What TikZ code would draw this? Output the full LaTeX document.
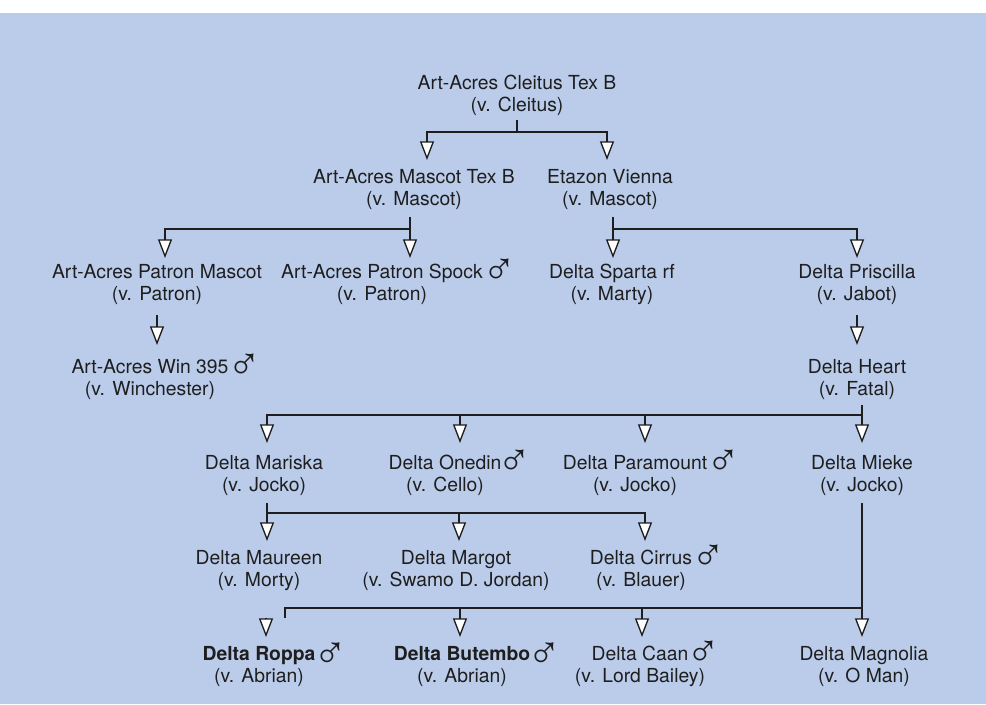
\documentclass[tikz,border=0pt]{standalone}
\usepackage{fontspec}
\setmainfont{TeX Gyre Heros}
\newfontfamily\symfont{Liberation Sans}
\usetikzlibrary{arrows.meta}
\definecolor{bgblue}{RGB}{186,204,234}
\definecolor{inkc}{RGB}{30,30,30}
\newcommand\tw[2]{\vtop{\halign{\hfil##\hfil\cr #1\cr #2\cr}}}
\newcommand\msym[1][-0.5pt]{\rlap{\hspace{#1}\raisebox{-5pt}{\symfont\fontsize{34}{34}\selectfont ♂}}}
\begin{document}
\begin{tikzpicture}[x=0.75pt,y=-0.75pt,
  txt/.style={anchor=base,inner sep=0pt,text=inkc,font=\fontsize{14.5}{16.9}\selectfont},
  ln/.style={draw=inkc,line width=1pt},
  arr/.style={ln,-{Triangle[fill=white,length=14pt,width=10.5pt]}}]
\useasboundingbox (0,0) rectangle (986,704);
\fill[white] (0,0) rectangle (986,704);
\fill[bgblue] (0,13) rectangle (986,704);

% nodes
\node[txt] (cleitus) at (517,89) {\tw{Art-Acres Cleitus Tex B}{(v. Cleitus)}};
\node[txt] (mascot) at (414,183) {\tw{Art-Acres Mascot Tex B}{(v. Mascot)}};
\node[txt] (etazon) at (610,183) {\tw{Etazon Vienna}{(v. Mascot)}};
\node[txt] (pmascot) at (157,278) {\tw{Art-Acres Patron Mascot}{(v. Patron)}};
\node[txt] (spock) at (382,278) {\tw{Art-Acres Patron Spock\msym}{(v. Patron)}};
\node[txt] (sparta) at (612,278) {\tw{Delta Sparta rf}{(v. Marty)}};
\node[txt] (priscilla) at (857,278) {\tw{Delta Priscilla}{(v. Jabot)}};
\node[txt] (win) at (150,373) {\tw{Art-Acres Win 395\msym}{(v. Winchester)}};
\node[txt] (heart) at (857,373) {\tw{Delta Heart}{(v. Fatal)}};
\node[txt] (mariska) at (264,469) {\tw{Delta Mariska}{(v. Jocko)}};
\node[txt] (onedin) at (445,469) {\tw{Delta Onedin\msym[-3pt]}{(v. Cello)}};
\node[txt] (paramount) at (635,469) {\tw{Delta Paramount\msym}{(v. Jocko)}};
\node[txt] (mieke) at (862,469) {\tw{Delta Mieke}{(v. Jocko)}};
\node[txt] (maureen) at (259,564) {\tw{Delta Maureen}{(v. Morty)}};
\node[txt] (margot) at (456,564) {\tw{Delta Margot}{(v. Swamo D. Jordan)}};
\node[txt] (cirrus) at (641,564) {\tw{Delta Cirrus\msym}{(v. Blauer)}};
\node[txt] (roppa) at (259,660) {\tw{\bfseries Delta Roppa\msym[-1.5pt]}{(v. Abrian)}};
\node[txt] (butembo) at (462,660) {\tw{\bfseries Delta Butembo\msym[-2pt]}{(v. Abrian)}};
\node[txt] (caan) at (640,660) {\tw{Delta Caan\msym[-1.5pt]}{(v. Lord Bailey)}};
\node[txt] (magnolia) at (864,660) {\tw{Delta Magnolia}{(v. O Man)}};

% connector points
\coordinate (s1) at (517,120); \coordinate (j1) at (517,132);
\coordinate (t-mascot) at (427,160); \coordinate (t-etazon) at (607,160);
\coordinate (s2) at (410,217); \coordinate (j2) at (410,229);
\coordinate (t-pmascot) at (165,258); \coordinate (t-spock) at (410,258);
\coordinate (s3) at (613,217); \coordinate (j3) at (613,229);
\coordinate (t-sparta) at (613,258); \coordinate (t-priscilla) at (857,258);
\coordinate (s4) at (157,315); \coordinate (t-win) at (157,345);
\coordinate (s5) at (857,315); \coordinate (t-heart) at (857,345);
\coordinate (s6) at (862,405); \coordinate (j6) at (862,415);
\coordinate (t-mariska) at (267,443); \coordinate (t-onedin) at (460,443);
\coordinate (t-paramount) at (645,443); \coordinate (t-mieke) at (862,443);
\coordinate (s7) at (267,503); \coordinate (j7) at (267,513);
\coordinate (t-maureen) at (267,541); \coordinate (t-margot) at (459,541);
\coordinate (t-cirrus) at (645,541);
\coordinate (s8) at (862,503); \coordinate (j8) at (862,608);
\coordinate (lt) at (285,618);
\coordinate (t-roppa) at (266,637); \coordinate (t-butembo) at (460,637);
\coordinate (t-caan) at (642,637); \coordinate (t-magnolia) at (862,637);

% connectors
\draw[ln] (s1) -- (j1);
\draw[arr] (j1) -| (t-mascot);
\draw[arr] (j1) -| (t-etazon);

\draw[arr] (s2) -- (t-spock);
\draw[arr] (j2) -| (t-pmascot);

\draw[arr] (s3) -- (t-sparta);
\draw[arr] (j3) -| (t-priscilla);

\draw[arr] (s4) -- (t-win);
\draw[arr] (s5) -- (t-heart);

\draw[arr] (s6) -- (t-mieke);
\draw[arr] (j6) -| (t-mariska);
\draw[arr] (j6 -| t-onedin) -- (t-onedin);
\draw[arr] (j6 -| t-paramount) -- (t-paramount);

\draw[arr] (s7) -- (t-maureen);
\draw[arr] (j7) -| (t-cirrus);
\draw[arr] (j7 -| t-margot) -- (t-margot);

\draw[arr] (s8) -- (t-magnolia);
\draw[ln] (lt) |- (j8);
\draw[arr] (j8 -| t-butembo) -- (t-butembo);
\draw[arr] (j8 -| t-caan) -- (t-caan);
\draw[arr] (t-roppa) ++(0,-19.5) -- (t-roppa);
\end{tikzpicture}
\end{document}
